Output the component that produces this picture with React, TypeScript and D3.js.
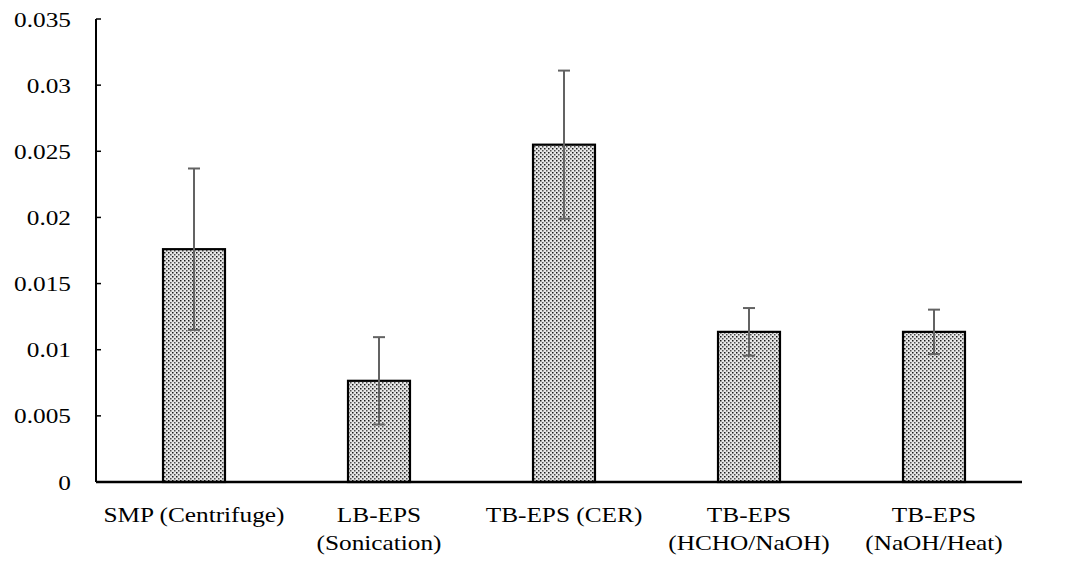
import React from "react";
import * as d3 from "d3";

const categories = [
  ["SMP (Centrifuge)"],
  ["LB-EPS", "(Sonication)"],
  ["TB-EPS (CER)"],
  ["TB-EPS", "(HCHO/NaOH)"],
  ["TB-EPS", "(NaOH/Heat)"],
];
const values = [0.0176, 0.00765, 0.0255, 0.01135, 0.01135];
const errors = [0.0061, 0.0033, 0.0056, 0.0018, 0.00168];
const yTicks = [0, 0.005, 0.01, 0.015, 0.02, 0.025, 0.03, 0.035];

const W = 1081;
const H = 563;
const left = 96;
const right = 1022;
const top = 19;
const bottom = 482;
const font = "'Liberation Serif', 'Times New Roman', serif";
const fs = 22;
const sx = 1.15;

function Label({ x, y, anchor, children }: { x: number; y: number; anchor: string; children: React.ReactNode }) {
  return (
    <text
      transform={`translate(${x},${y}) scale(${sx},1)`}
      textAnchor={anchor}
      fontFamily={font}
      fontSize={fs}
      fill="#000"
    >
      {children}
    </text>
  );
}

export default function App() {
  const y = d3.scaleLinear().domain([0, 0.035]).range([bottom, top]);
  const x = d3
    .scaleBand<number>()
    .domain(categories.map((_, i) => i))
    .range([left + 5.5, left + 5.5 + 925])
    .paddingInner(0.665)
    .paddingOuter(0.3325);
  const bw = x.bandwidth();
  const fmt = (v: number) => (v === 0 ? "0" : String(+v.toFixed(3)));

  return (
    <svg
      width={W}
      height={H}
      style={{ position: "absolute", left: 0, top: 0, background: "#fff" }}
    >
      <defs>
        <pattern id="dots" width="4" height="4" patternUnits="userSpaceOnUse">
          <rect width="4" height="4" fill="#e6e6e6" />
          <rect x="0" y="0" width="1.5" height="1.5" fill="#1a1a1a" />
          <rect x="2" y="2" width="1.5" height="1.5" fill="#4d4d4d" />
        </pattern>
      </defs>

      {/* bars */}
      {values.map((v, i) => (
        <rect
          key={`b${i}`}
          x={x(i)!}
          y={y(v)}
          width={bw}
          height={y(0) - y(v)}
          fill="url(#dots)"
          stroke="#000"
          strokeWidth={2.2}
        />
      ))}

      {/* error bars */}
      {values.map((v, i) => {
        const cx = x(i)! + bw / 2;
        const hi = y(v + errors[i]);
        const lo = y(v - errors[i]);
        return (
          <g key={`e${i}`} stroke="#636363" strokeWidth={2}>
            <line x1={cx} x2={cx} y1={hi} y2={lo} />
            <line x1={cx - 6} x2={cx + 6} y1={hi} y2={hi} />
            <line x1={cx - 6} x2={cx + 6} y1={lo} y2={lo} />
          </g>
        );
      })}

      {/* y axis */}
      <line x1={left} x2={left} y1={top} y2={bottom} stroke="#000" strokeWidth={2} />
      {yTicks.map((t) => (
        <g key={`t${t}`}>
          <line x1={left} x2={left + 5} y1={y(t)} y2={y(t)} stroke="#000" strokeWidth={1.5} />
          <Label x={71} y={y(t) + 7.5} anchor="end">
            {fmt(t)}
          </Label>
        </g>
      ))}

      {/* x axis */}
      <line x1={left} x2={right} y1={bottom} y2={bottom} stroke="#000" strokeWidth={2.5} />
      {categories.map((lines, i) => {
        const cx = x(i)! + bw / 2;
        return lines.map((l, j) => (
          <Label key={`c${i}-${j}`} x={cx} y={522 + j * 28} anchor="middle">
            {l}
          </Label>
        ));
      })}
    </svg>
  );
}
